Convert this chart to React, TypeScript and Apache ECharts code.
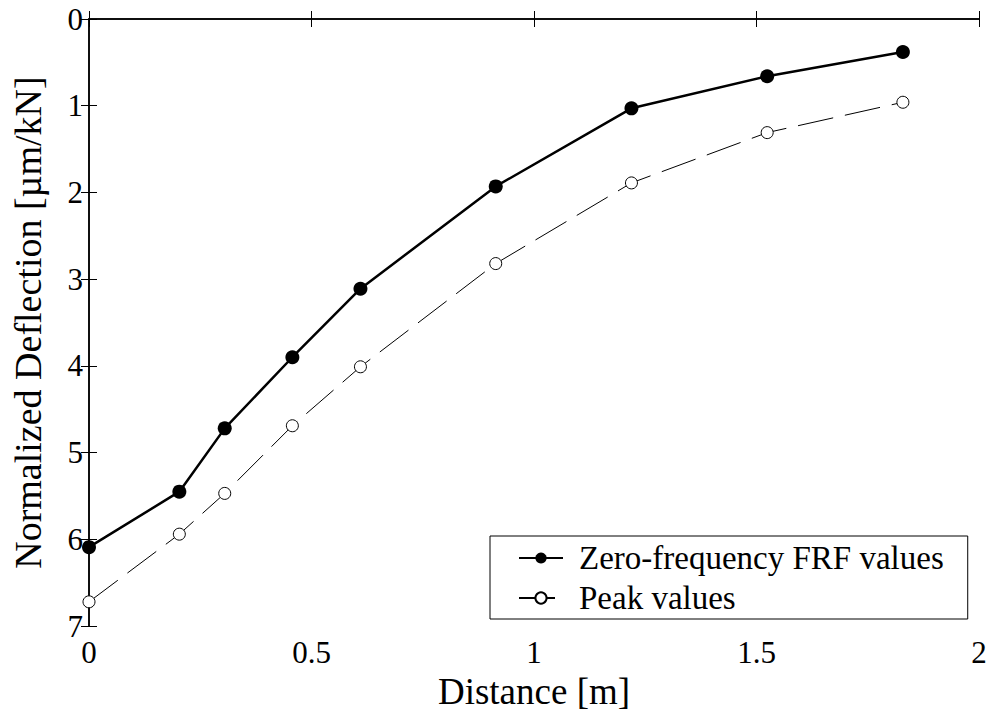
import React, { useEffect, useRef } from "react";
import * as echarts from "echarts";

const distances = [0, 0.203, 0.305, 0.457, 0.61, 0.914, 1.219, 1.524, 1.829];
const zeroFreqValues = [6.09, 5.45, 4.72, 3.9, 3.11, 1.93, 1.03, 0.66, 0.38];
const peakValues = [6.72, 5.94, 5.47, 4.69, 4.01, 2.82, 1.89, 1.31, 0.96];
const seriesNames = ["Zero-frequency FRF values", "Peak values"];
const xAxisName = "Distance [m]";
const yAxisName = "Normalized Deflection [µm/kN]";

const FONT = "Liberation Serif";

export default function App() {
  const ref = useRef<HTMLDivElement>(null);
  useEffect(() => {
    if (!ref.current) return;
    const chart = echarts.init(ref.current, null, { renderer: "svg" });
    const axisLine = { show: true, lineStyle: { color: "#000", width: 1.5 } };
    const tick = { show: true, inside: true, length: 8, lineStyle: { color: "#000", width: 1 } };
    chart.setOption({
      animation: false,
      backgroundColor: "#fff",
      textStyle: { fontFamily: FONT, color: "#000" },
      grid: { left: 89, right: 13, top: 19, bottom: 82, containLabel: false },
      legend: {
        left: 490,
        top: 536,
        orient: "vertical",
        backgroundColor: "#fff",
        borderColor: "#000",
        borderWidth: 1,
        borderRadius: 0,
        padding: [5, 24, 4, 28],
        itemGap: 6,
        itemWidth: 44,
        itemHeight: 14,
        textStyle: { fontFamily: FONT, fontSize: 33, color: "#000", lineHeight: 34, padding: [0, 0, 0, 11] },
        data: seriesNames,
      },
      xAxis: [
        {
          type: "value",
          min: 0,
          max: 2,
          interval: 0.5,
          name: xAxisName,
          nameLocation: "middle",
          nameGap: 44,
          nameTextStyle: { fontFamily: FONT, fontSize: 37, color: "#000" },
          axisLine,
          axisTick: tick,
          splitLine: { show: false },
          axisLabel: { fontFamily: FONT, fontSize: 31, color: "#000", margin: 11 },
        },
        {
          type: "value",
          position: "top",
          min: 0,
          max: 2,
          interval: 0.5,
          axisLine,
          axisTick: tick,
          splitLine: { show: false },
          axisLabel: { show: false },
        },
      ],
      yAxis: [
        {
          type: "value",
          inverse: true,
          min: 0,
          max: 7,
          interval: 1,
          name: yAxisName,
          nameLocation: "middle",
          nameGap: 42,
          nameTextStyle: { fontFamily: FONT, fontSize: 38, color: "#000" },
          axisLine,
          axisTick: tick,
          splitLine: { show: false },
          axisLabel: { fontFamily: FONT, fontSize: 31, color: "#000", margin: 6 },
        },
        {
          type: "value",
          position: "right",
          inverse: true,
          min: 0,
          max: 7,
          interval: 1,
          axisLine,
          axisTick: tick,
          splitLine: { show: false },
          axisLabel: { show: false },
        },
      ],
      series: [
        {
          name: seriesNames[0],
          type: "line",
          data: distances.map((d, i) => [d, zeroFreqValues[i]]),
          symbol: "circle",
          symbolSize: 14,
          lineStyle: { color: "#000", width: 2.5 },
          itemStyle: { color: "#000", borderColor: "#000", borderWidth: 0 },
          z: 3,
        },
        {
          name: seriesNames[1],
          type: "line",
          data: distances.map((d, i) => [d, peakValues[i]]),
          symbol: "circle",
          symbolSize: 12,
          lineStyle: { color: "#000", width: 1, type: [36, 12] },
          itemStyle: { color: "#fff", borderColor: "#000", borderWidth: 1 },
          z: 2,
        },
      ],
    });
    return () => chart.dispose();
  }, []);
  return <div ref={ref} style={{ width: 992, height: 715, position: "absolute", left: 0, top: 0 }} />;
}
